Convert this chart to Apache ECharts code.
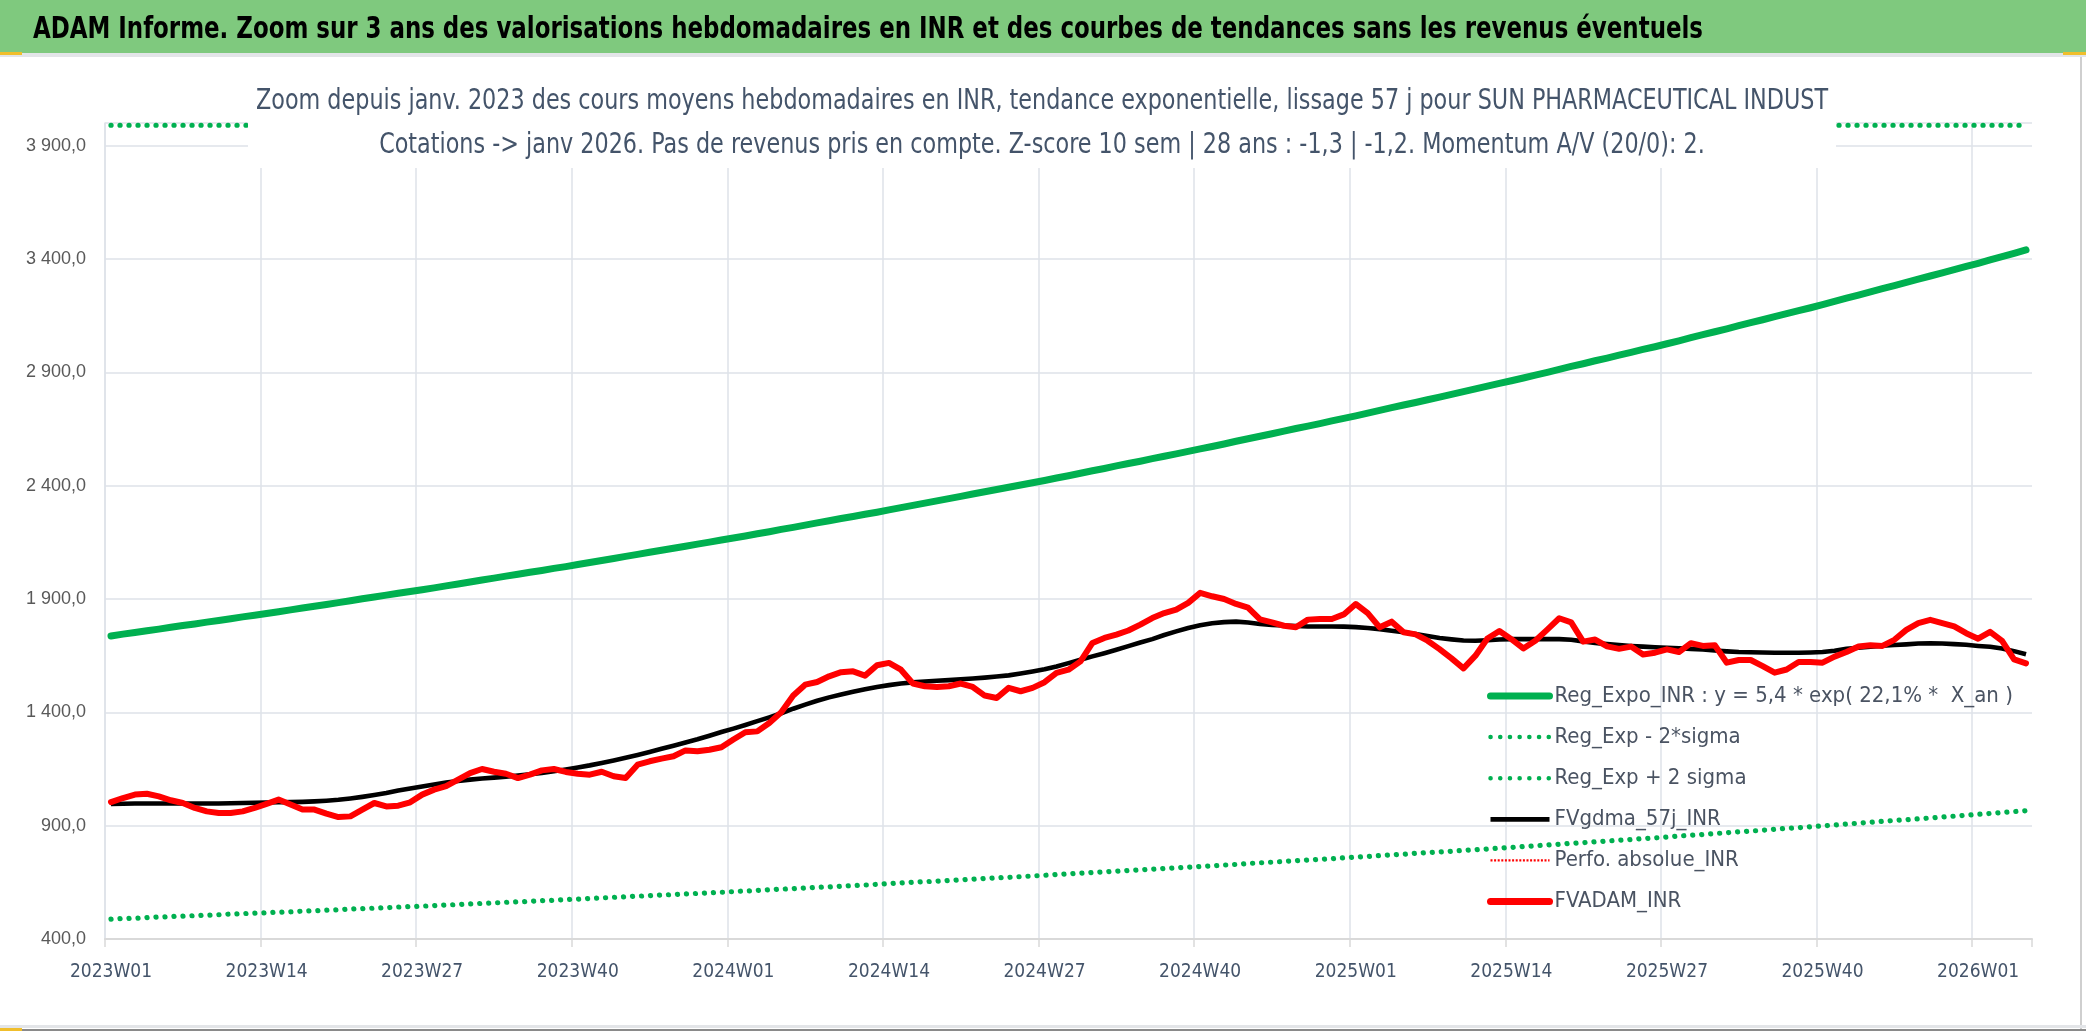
<!DOCTYPE html>
<html>
<head>
<meta charset="utf-8">
<script src="https://cdn.jsdelivr.net/npm/echarts@6/dist/echarts.min.js"></script>
<style>
html,body{margin:0;padding:0;background:#fff;}
#chart{width:2086px;height:1031px;}
</style>
</head>
<body>
<div id="chart"></div>
<script>
// ---- DATA ----
const years = [2023, 2024, 2025, 2026];
const weeksPerYear = [52, 52, 52, 5];
const categories = [];
years.forEach((y, k) => { for (let w = 1; w <= weeksPerYear[k]; w++) categories.push(y + 'W' + (w < 10 ? '0' + w : w)); });

const regExpo = [
1737,1745,1752,1760,1767,1775,1783,1790,1798,1805,1813,1821,1828,
1836,1844,1852,1860,1868,1876,1884,1892,1901,1909,1917,1925,1933,
1941,1949,1958,1966,1975,1984,1992,2001,2009,2018,2026,2035,2043,
2052,2061,2070,2079,2088,2097,2106,2115,2124,2133,2142,2151,2160,
2169,2178,2188,2197,2207,2216,2226,2236,2245,2255,2264,2274,2283,
2293,2303,2313,2323,2333,2343,2353,2363,2373,2383,2393,2403,2413,
2423,2434,2444,2455,2466,2476,2487,2498,2508,2519,2530,2540,2551,
2562,2573,2584,2596,2607,2618,2629,2641,2652,2663,2674,2686,2697,
2708,2720,2732,2744,2756,2767,2779,2791,2803,2815,2827,2839,2851,
2863,2875,2888,2900,2913,2926,2938,2951,2963,2976,2988,3001,3013,
3026,3039,3053,3066,3079,3092,3106,3119,3132,3146,3159,3172,3185,
3199,3213,3227,3241,3255,3269,3283,3297,3311,3325,3339,3353,3367,
3381,3396,3410,3425,3440];

const regMinus = [
488,490,492,494,497,499,501,503,505,507,510,512,514,
516,518,520,523,525,527,529,532,534,536,538,541,543,
545,547,550,552,555,557,559,562,564,566,569,571,574,
576,579,581,584,586,589,591,594,596,599,601,604,606,
609,612,614,617,620,622,625,628,630,633,636,638,641,
644,647,650,653,655,658,661,664,667,670,672,675,678,
681,684,687,690,693,696,699,702,705,708,711,714,717,
720,723,726,729,733,736,739,742,745,748,751,754,758,
761,764,768,771,774,778,781,784,787,791,794,797,801,
804,808,811,815,818,822,825,829,832,836,839,843,846,
850,854,858,861,865,869,873,876,880,884,888,891,895,
899,903,907,911,915,919,923,926,930,934,938,942,946,
950,954,958,962,966];

// visible part of the upper band (it runs along the top edge of the plot)
const regPlus = [
3990,3990,3990,3990,3990,3990,3990,3990,3990,3990,
3990,3990,3990,3990,3990,3990,3990,3990,3990,3990,
3990,3990,3990,3990,3990,3990,3990,3990,3990,3990,
3990,3990,3990,3990,3990,3990,3990,3990,3990,3990,
3990,3990,3990,3990,3990,3990,3990,3990,3990,3990,
3990,3990,3990,3990,3990,3990,3990,3990,3990,3990,
3990,3990,3990,3990,3990,3990,3990,3990,3990,3990,
3990,3990,3990,3990,3990,3990,3990,3990,3990,3990,
3990,3990,3990,3990,3990,3990,3990,3990,3990,3990,
3990,3990,3990,3990,3990,3990,3990,3990,3990,3990,
3990,3990,3990,3990,3990,3990,3990,3990,3990,3990,
3990,3990,3990,3990,3990,3990,3990,3990,3990,3990,
3990,3990,3990,3990,3990,3990,3990,3990,3990,3990,
3990,3990,3990,3990,3990,3990,3990,3990,3990,3990,
3990,3990,3990,3990,3990,3990,3990,3990,3990,3990,
3990,3990,3990,3990,3990,3990,3990,3990,3990,3990,
3990];

const fvgdma = [
996,997,998,998,998,998,998,998,998,998,
999,1000,1001,1002,1003,1004,1005,1007,1010,1014,
1020,1027,1035,1044,1055,1064,1073,1082,1090,1097,
1103,1108,1112,1116,1121,1127,1133,1140,1148,1157,
1166,1177,1188,1200,1212,1225,1239,1253,1267,1281,
1297,1313,1328,1344,1361,1378,1396,1416,1434,1451,
1466,1479,1491,1502,1512,1520,1527,1532,1536,1539,
1542,1546,1549,1553,1558,1563,1571,1580,1590,1602,
1617,1632,1647,1661,1676,1692,1708,1723,1741,1757,
1772,1784,1793,1798,1800,1796,1790,1786,1783,1781,
1779,1779,1779,1778,1776,1772,1767,1760,1753,1745,
1737,1728,1722,1717,1716,1718,1721,1723,1723,1723,
1723,1723,1720,1713,1706,1701,1697,1693,1690,1687,
1685,1683,1680,1677,1673,1669,1666,1665,1664,1663,
1663,1663,1664,1666,1672,1680,1685,1690,1694,1697,
1700,1704,1705,1704,1701,1698,1693,1689,1682,1670,
1656];

const fvadam = [
1004,1022,1037,1041,1029,1012,1000,978,963,956,
956,963,978,996,1015,993,971,971,953,938,
941,971,1000,985,988,1003,1037,1059,1074,1103,
1132,1150,1138,1129,1110,1125,1144,1150,1137,1129,
1125,1138,1118,1110,1169,1184,1196,1206,1232,1228,
1235,1246,1280,1312,1316,1353,1400,1474,1522,1534,
1559,1577,1581,1562,1608,1618,1588,1527,1515,1512,
1515,1527,1512,1474,1463,1508,1493,1508,1533,1574,
1588,1625,1706,1728,1743,1761,1787,1816,1838,1853,
1883,1927,1912,1900,1878,1862,1810,1797,1782,1775,
1809,1812,1812,1832,1878,1838,1775,1800,1753,1744,
1716,1679,1638,1594,1650,1726,1759,1723,1682,1716,
1765,1815,1797,1712,1721,1691,1680,1690,1655,1663,
1678,1666,1705,1693,1696,1619,1631,1631,1604,1575,
1589,1622,1622,1619,1646,1666,1690,1696,1693,1720,
1764,1794,1808,1794,1779,1749,1725,1755,1715,1634,
1616];

const perfoAbsolue = [];

const seriesNames = ['Reg_Expo_INR : y = 5,4 * exp( 22,1% *  X_an )', 'Reg_Exp - 2*sigma', 'Reg_Exp + 2 sigma', 'FVgdma_57j_INR', 'Perfo. absolue_INR', 'FVADAM_INR'];
const headerText = 'ADAM Informe. Zoom sur 3 ans des valorisations hebdomadaires en INR et des courbes de tendances sans les revenus éventuels';
const subtitleLines = ['Zoom depuis janv. 2023 des cours moyens hebdomadaires en INR, tendance exponentielle, lissage 57 j pour SUN PHARMACEUTICAL INDUST', 'Cotations -> janv 2026. Pas de revenus pris en compte. Z-score 10 sem | 28 ans : -1,3 | -1,2. Momentum A/V (20/0): 2.'];
const yMin = 400, yMax = 4000, yStep = 500;

// ---- STYLE / LAYOUT ----
const COND = "'DejaVu Sans Condensed','DejaVu Sans',sans-serif";
const HEAD_FONT = { weight: 'bold', size: 31, family: "'DejaVu Sans Condensed','DejaVu Sans',sans-serif" };
const SUB_FONT = { weight: 'normal', size: 29, family: "'DejaVu Sans Condensed','DejaVu Sans',sans-serif" };
const cv = document.createElement('canvas').getContext('2d');
function textWidth(t, f) { cv.font = f.weight + ' ' + f.size + 'px ' + f.family; return cv.measureText(t).width; }
const headScale = 1670 / textWidth(headerText, HEAD_FONT);
const subScale = 1572 / textWidth(subtitleLines[0], SUB_FONT);

const chart = echarts.init(document.getElementById('chart'));
function fmt(v) {
  if (v > 3950) return '';
  const s = v.toFixed(1).split('.');
  return s[0].replace(/\B(?=(\d{3})+(?!\d))/g, ' ') + ',' + s[1];
}
const GRID = '#DEE2E8';
const DOT = [0.1, 8.9];
// 13 vertical gridlines on the week boundaries, none on the right edge
const vGridColors = ['#DEE2E8','#DEE2E8','#DEE2E8','#DEE2E8','#DEE2E8','#DEE2E8','#DEE2E8','#DEE2E8','#DEE2E8','#DEE2E8','#DEE2E8','#DEE2E8','#DEE2E8','rgba(0,0,0,0)'];
chart.setOption({
  backgroundColor: '#ffffff',
  animation: false,
  graphic: [
    { type: 'rect', shape: { x: 0, y: 0, width: 2086, height: 53 }, style: { fill: '#7FC97E' }, z: 20 },
    { type: 'rect', shape: { x: 0, y: 53, width: 2086, height: 4 }, style: { fill: '#E3E5E8' }, z: 20 },
    { type: 'rect', shape: { x: 0, y: 52, width: 22, height: 3 }, style: { fill: '#F0BE2C' }, z: 21 },
    { type: 'rect', shape: { x: 2063, y: 52, width: 23, height: 3 }, style: { fill: '#F0BE2C' }, z: 21 },
    { type: 'rect', shape: { x: 2080, y: 57, width: 2, height: 974 }, style: { fill: '#CFCFCF' }, z: 20 },
    { type: 'rect', shape: { x: 0, y: 1025, width: 2086, height: 3 }, style: { fill: '#E3E5E8' }, z: 20 },
    { type: 'rect', shape: { x: 0, y: 1028, width: 22, height: 3 }, style: { fill: '#F0BE2C' }, z: 21 },
    { type: 'rect', shape: { x: 0, y: 1029, width: 2086, height: 2 }, style: { fill: '#8A8A8A' }, z: 20 },
    { type: 'text', x: 33, y: 30, scaleX: headScale, z: 22,
      style: { text: headerText, fontFamily: HEAD_FONT.family, fontWeight: HEAD_FONT.weight, fontSize: HEAD_FONT.size, fill: '#000000', align: 'left', verticalAlign: 'middle' } },
    { type: 'rect', shape: { x: 248, y: 72, width: 1588, height: 96 }, style: { fill: '#ffffff' }, z: 20 },
    { type: 'text', x: 1042, y: 101, scaleX: subScale, z: 22,
      style: { text: subtitleLines[0], fontFamily: SUB_FONT.family, fontWeight: SUB_FONT.weight, fontSize: SUB_FONT.size, fill: '#44546A', align: 'center', verticalAlign: 'middle' } },
    { type: 'text', x: 1042, y: 145, scaleX: subScale, z: 22,
      style: { text: subtitleLines[1], fontFamily: SUB_FONT.family, fontWeight: SUB_FONT.weight, fontSize: SUB_FONT.size, fill: '#44546A', align: 'center', verticalAlign: 'middle' } }
  ],
  grid: { left: 105, right: 54, top: 123, bottom: 92, containLabel: false },
  legend: {
    orient: 'vertical', left: 1487, top: 683, padding: 0,
    itemWidth: 59, itemHeight: 14, itemGap: 15.1,
    data: [
      { name: seriesNames[0], itemStyle: { opacity: 0 }, lineStyle: { color: '#00B050', width: 7, type: 'solid', cap: 'round' } },
      { name: seriesNames[1], itemStyle: { opacity: 0 }, lineStyle: { color: '#00B050', width: 4.5, type: [0.1, 9.6], cap: 'round' } },
      { name: seriesNames[2], itemStyle: { opacity: 0 }, lineStyle: { color: '#00B050', width: 4.5, type: [0.1, 9.6], cap: 'round' } },
      { name: seriesNames[3], itemStyle: { opacity: 0 }, lineStyle: { color: '#000000', width: 4.7, type: 'solid', cap: 'butt' } },
      { name: seriesNames[4], itemStyle: { opacity: 0 }, lineStyle: { color: '#FF0000', width: 2.4, type: [2, 1.6], cap: 'butt' } },
      { name: seriesNames[5], itemStyle: { opacity: 0 }, lineStyle: { color: '#FF0000', width: 7, type: 'solid', cap: 'round' } }
    ],
    textStyle: { fontFamily: COND, fontSize: 22, color: '#4A5362', lineHeight: 26 }
  },
  xAxis: {
    type: 'category', data: categories, boundaryGap: true,
    axisLine: { lineStyle: { color: '#D9D9D9', width: 2 } },
    axisTick: { show: true, interval: 12, length: 8, lineStyle: { color: '#D9D9D9', width: 1.5 } },
    splitLine: { show: true, interval: 12, lineStyle: { color: vGridColors, width: 1.5 } },
    axisLabel: { interval: 12, margin: 24, fontFamily: COND, fontSize: 19, color: '#44546A' }
  },
  yAxis: {
    type: 'value', min: yMin, max: yMax, interval: yStep,
    axisLine: { show: true, lineStyle: { color: GRID, width: 1.5 } },
    axisTick: { show: false },
    splitLine: { show: true, lineStyle: { color: GRID, width: 1.5 } },
    axisLabel: { margin: 19, fontFamily: "'Liberation Sans',Arial,sans-serif", fontSize: 18, color: '#595959', formatter: fmt }
  },
  series: [
    { name: seriesNames[0], type: 'line', data: regExpo, symbol: 'none', z: 3,
      lineStyle: { color: '#00B050', width: 7, cap: 'round', join: 'round' }, itemStyle: { color: '#00B050' } },
    { name: seriesNames[1], type: 'line', data: regMinus, symbol: 'none', z: 3,
      lineStyle: { color: '#00B050', width: 5.2, type: DOT, cap: 'round' }, itemStyle: { color: '#00B050' } },
    { name: seriesNames[2], type: 'line', data: regPlus, symbol: 'none', z: 3,
      lineStyle: { color: '#00B050', width: 5.2, type: DOT, cap: 'round' }, itemStyle: { color: '#00B050' } },
    { name: seriesNames[3], type: 'line', data: fvgdma, symbol: 'none', z: 4,
      lineStyle: { color: '#000000', width: 4.6, join: 'round' }, itemStyle: { color: '#000000' } },
    { name: seriesNames[4], type: 'line', data: perfoAbsolue, symbol: 'none', z: 4,
      lineStyle: { color: '#FF0000', width: 2.2, type: [2, 1.6] }, itemStyle: { color: '#FF0000' } },
    { name: seriesNames[5], type: 'line', data: fvadam, symbol: 'none', z: 5,
      lineStyle: { color: '#FF0000', width: 6, join: 'round', cap: 'round' }, itemStyle: { color: '#FF0000' } }
  ]
});
</script>
</body>
</html>
